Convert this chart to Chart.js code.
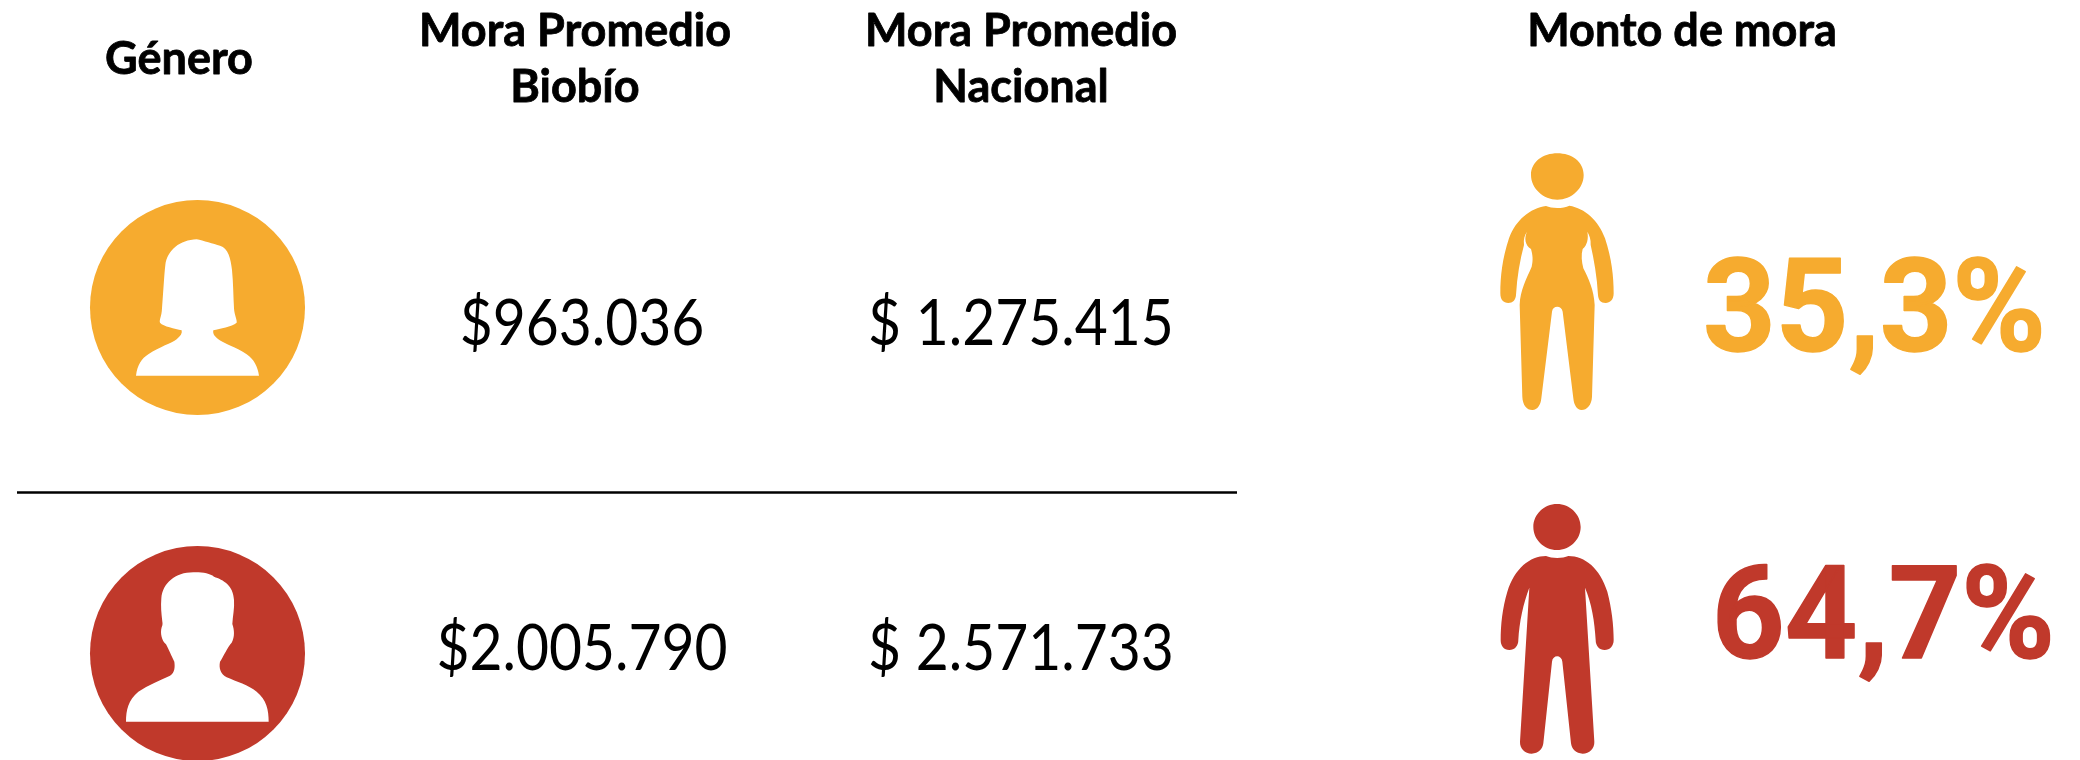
<!DOCTYPE html>
<html lang="es">
<head>
<meta charset="utf-8">
<title>Mora por género</title>
<style>html,body{margin:0;padding:0;background:#fff}canvas{display:block}</style>
<script src="https://cdn.jsdelivr.net/npm/chart.js@4"></script>
</head>
<body>
<canvas id="c" width="2080" height="760"></canvas>
<script>
const generos = ['Mujer', 'Hombre'];
const moraBiobio = [963036, 2005790];
const moraNacional = [1275415, 2571733];
const montoMora = [35.3, 64.7];
const encabezados = [['Género'], ['Mora Promedio', 'Biobío'], ['Mora Promedio', 'Nacional'], ['Monto de mora']];

const ORANGE = '#F6AB2F', RED = '#C0392B';
const colores = [ORANGE, RED];
const TXT = 'Lato, Carlito, Calibri, sans-serif';
const rowIcon = [307.5, 653.5];
const rowText = [345, 670];

const fmt = n => String(n).replace(/\B(?=(\d{3})+$)/g, '.');
const pct = v => v.toFixed(1).replace('.', ',') + '%';

const BUST = [
  {ox:60, oy:170, d:'M228,617 C232,585 245,565 265,553 C300,530 335,520 350,508 C362,498 367,490 365,481 C345,475 310,470 300,458 C297,450 305,440 306,415 C310,370 312,320 316,285 C322,240 360,210 410,208 C430,212 460,222 480,227 C505,235 512,265 516,300 C520,340 520,380 522,415 C523,435 532,450 530,458 C515,470 480,476 460,481 C458,490 462,498 475,508 C490,520 530,532 560,553 C582,568 593,590 597,617 Z'},
  {ox:60, oy:520, d:'M198,605 C198,570 205,540 235,515 C265,495 300,480 330,467 C345,458 345,440 343,425 C335,410 325,385 318,373 C305,362 300,340 305,322 C308,315 308,310 307,305 C304,280 302,260 304,235 C308,190 345,157 400,157 C425,156 450,160 462,170 C490,180 520,195 522,240 C524,265 518,290 517,312 C523,330 525,350 515,368 C503,380 490,410 480,425 C476,445 482,462 500,472 C530,485 565,495 590,515 C620,540 626,570 626,605 Z'}
];
const FIGURE = [
  {ox:1470, oy:130, d:'M183,135 C183,95 220,70 262,70 C305,70 341,95 341,135 C341,175 305,209 262,209 C220,209 183,175 183,135 Z M228,228 C245,236 280,236 298,227 C345,235 385,270 405,325 C425,385 431,440 431,490 C431,510 420,519 407,519 C392,519 385,510 384,495 C381,440 372,390 362,345 C363,328 358,315 352,305 C356,325 352,345 338,357 C333,375 335,395 340,415 C355,445 372,480 374,525 L366,800 C365,825 350,840 335,840 C320,840 312,825 310,805 L278,545 C275,525 248,525 246,545 L214,805 C212,825 203,840 187,840 C170,840 158,825 157,800 L149,525 C150,480 170,445 185,410 C190,390 188,375 183,357 C165,345 162,325 171,305 C164,315 160,328 162,345 C150,390 141,440 138,495 C137,510 128,519 115,519 C100,519 91,510 91,490 C91,440 97,385 117,325 C137,270 180,235 228,228 Z'},
  {ox:1470, oy:485, d:'M190,126 C190,88 222,57 261,57 C300,57 332,88 332,126 C332,164 300,195 261,195 C222,195 190,164 190,126 Z M228,213 C245,221 278,221 295,213 C345,213 390,250 412,320 C425,370 431,420 431,465 C431,483 420,495 404,495 C388,495 377,483 377,465 C374,410 365,355 345,308 L373,770 C374,790 358,806 338,806 C318,806 305,792 303,775 L277,530 C275,508 248,508 246,530 L220,775 C218,792 205,806 185,806 C165,806 149,790 150,770 L178,308 C160,355 148,410 145,465 C145,483 134,495 118,495 C102,495 92,483 92,465 C92,420 97,370 112,320 C134,250 180,213 228,213 Z'}
];

function drawShape(ctx, s, fill) {
  ctx.save();
  ctx.translate(s.ox, s.oy);
  ctx.scale(1/3, 1/3);
  ctx.fillStyle = fill;
  ctx.fill(new Path2D(s.d));
  ctx.restore();
}

function squeezed(ctx, text, px, py, sx, stroke) {
  ctx.save();
  ctx.translate(px, py);
  ctx.scale(sx, 1);
  ctx.fillText(text, 0, 0);
  if (stroke) { ctx.lineWidth = stroke; ctx.strokeStyle = ctx.fillStyle; ctx.lineJoin = 'round'; ctx.strokeText(text, 0, 0); }
  ctx.restore();
}

const infografia = {
  id: 'infografia',
  afterDatasetsDraw(chart) {
    const {ctx, scales:{x, y}} = chart;
    ctx.save();
    ctx.textAlign = 'center';
    ctx.textBaseline = 'alphabetic';
    ctx.fillStyle = '#000';
    ctx.font = 'bold 45px ' + TXT;
    [179, 575, 1021, 1682].forEach((cx, i) => {
      const base = i === 0 ? 74 : 46;
      encabezados[i].forEach((t, k) => squeezed(ctx, t, x.getPixelForValue(cx), y.getPixelForValue(base + k * 56), 1, 0.8));
    });
    ctx.font = '64px ' + TXT;
    generos.forEach((g, i) => {
      squeezed(ctx, '$' + fmt(moraBiobio[i]), x.getPixelForValue(582), y.getPixelForValue(rowText[i]), 0.89);
      squeezed(ctx, '$ ' + fmt(moraNacional[i]), x.getPixelForValue(1021), y.getPixelForValue(rowText[i]), 0.89);
    });
    generos.forEach((g, i) => {
      drawShape(ctx, BUST[i], '#fff');
      drawShape(ctx, FIGURE[i], colores[i]);
    });
    ctx.font = '700 130px "Roboto"';
    ctx.textAlign = 'left';
    montoMora.forEach((v, i) => {
      ctx.fillStyle = colores[i];
      squeezed(ctx, pct(v), x.getPixelForValue([1703, 1712][i]), y.getPixelForValue([351, 658][i]), 0.975, 1.5);
    });
    ctx.restore();
  }
};

new Chart(document.getElementById('c'), {
  type: 'scatter',
  data: {
    datasets: [
      { label: 'Género', data: generos.map((g, i) => ({x: 197.5, y: rowIcon[i]})),
        pointRadius: 107.5, pointHoverRadius: 107.5, pointBorderWidth: 0,
        pointBackgroundColor: colores, clip: false },
      { label: 'Separador', type: 'line', data: [{x: 17, y: 492.5}, {x: 1237, y: 492.5}],
        borderColor: '#000', borderWidth: 2.5, pointRadius: 0, fill: false }
    ]
  },
  options: {
    responsive: false,
    animation: false,
    events: [],
    layout: {padding: 0, autoPadding: false},
    plugins: {legend: {display: false}, tooltip: {enabled: false}, title: {display: false}},
    scales: {
      x: {type: 'linear', min: 0, max: 2080, display: false},
      y: {type: 'linear', min: 0, max: 760, reverse: true, display: false}
    }
  },
  plugins: [infografia]
});
</script>
</body>
</html>
